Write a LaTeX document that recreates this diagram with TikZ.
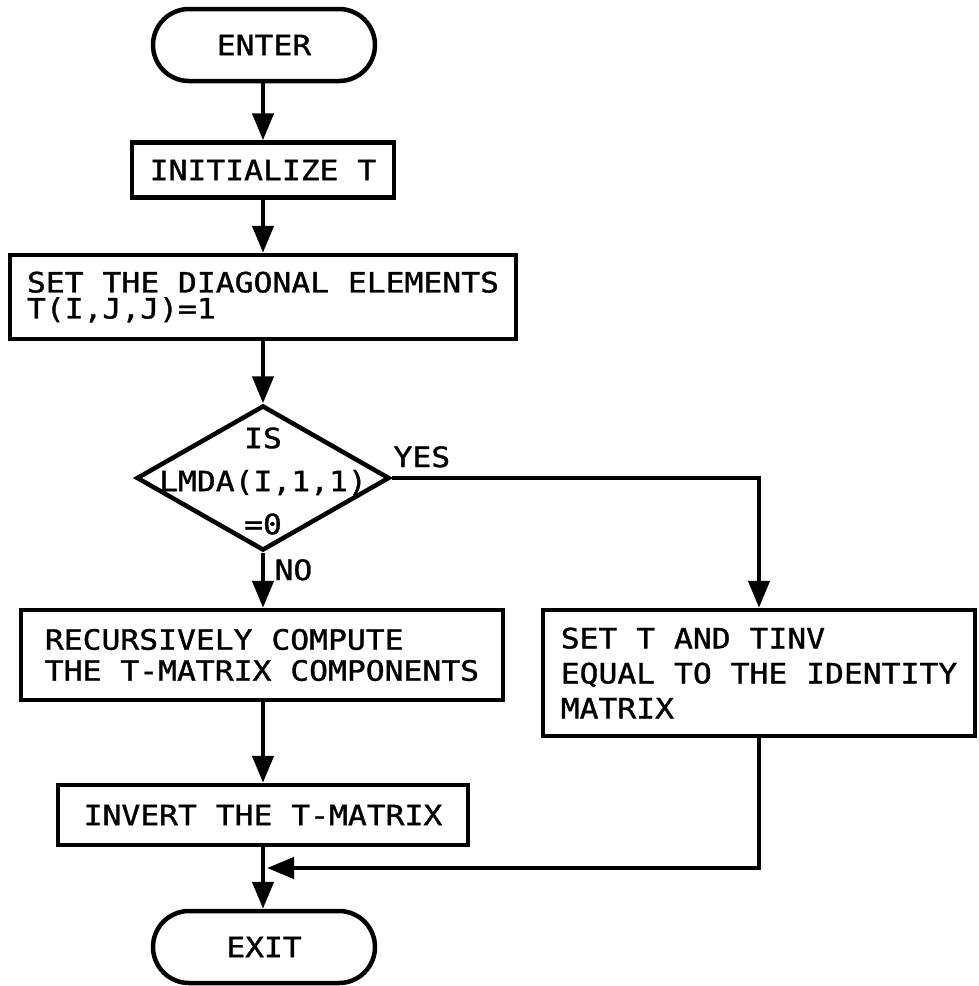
\documentclass[tikz,border=0pt]{standalone}
\usepackage{fontspec}
\newfontfamily\lerfont[FakeStretch=1.12,FakeBold=1.2]{DejaVu Sans Mono}
\usetikzlibrary{shapes.geometric,arrows.meta}
\begin{document}
\begin{tikzpicture}[x=1pt,y=-1pt,
  every node/.style={font=\lerfont\fontsize{28}{32}\selectfont, text=black},
  procbox/.style={draw, line width=4.5pt, rectangle, inner sep=0pt},
  termbox/.style={draw, line width=4.5pt, rectangle, rounded corners=36pt,
    minimum width=222pt, minimum height=72pt, inner sep=0pt},
  flow/.style={line width=4.5pt, -{Triangle[length=27pt,width=21pt]}}]
\useasboundingbox (0,0) rectangle (978,986);

\node[termbox] (enter) at (264,45) {ENTER};
\node[procbox, minimum width=262pt, minimum height=55pt] (init) at (263,170) {INITIALIZE T};
\node[procbox, minimum width=506pt, minimum height=84pt, align=left,
  font=\lerfont\fontsize{28}{26}\selectfont] (diag) at (263,297)
  {SET THE DIAGONAL ELEMENTS\\T(I,J,J)=1};
\node[draw, diamond, line width=4.5pt, minimum width=253pt, minimum height=145pt, inner sep=0pt] (dec) at (263,478) {};
\node[align=center, font=\lerfont\fontsize{28}{43}\selectfont] (dectext) at (263,481) {IS\\LMDA(I,1,1)\\=0};
\node[anchor=base west] (yes) at (390,467) {YES};
\node[anchor=base west] (no) at (271,580) {NO};
\node[procbox, minimum width=482pt, minimum height=90pt, align=left,
  font=\lerfont\fontsize{28}{31}\selectfont] (rec) at (262,655)
  {RECURSIVELY COMPUTE\\THE T-MATRIX COMPONENTS};
\node[procbox, minimum width=432pt, minimum height=126pt, align=left,
  font=\lerfont\fontsize{28}{35}\selectfont] (ident) at (759,673)
  {SET T AND TINV\\EQUAL TO THE IDENTITY\\MATRIX};
\node[procbox, minimum width=410pt, minimum height=60pt] (inv) at (263,815) {INVERT THE T-MATRIX};
\node[termbox] (exit) at (264,947) {EXIT};
\coordinate (join) at (267,868);

\draw[flow] (enter.south -| init.north) -- (init.north);
\draw[flow] (init.south) -- (init.south |- diag.north);
\draw[flow] (diag.south -| dec.north) -- (dec.north);
\draw[flow] (dec.east) -| (ident.north);
\draw[flow] (dec.south) -- (dec.south |- rec.north);
\draw[flow] (rec.south -| inv.north) -- (inv.north);
\draw[flow] (inv.south) -- (inv.south |- exit.north);
\draw[flow] (ident.south) |- (join);
\end{tikzpicture}
\end{document}
